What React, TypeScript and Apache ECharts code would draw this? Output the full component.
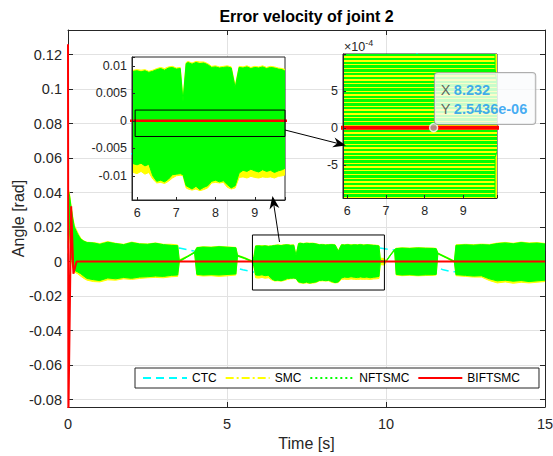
import React, { useEffect, useRef } from 'react';
import * as echarts from 'echarts';

const FONT = '"Liberation Sans", Arial, Helvetica, sans-serif';
const AX = '#262626';
const GRIDC = '#e2e2e2';
const C_CTC = '#00ffff';
const C_SMC = '#ffff00';
const C_NFT = '#00ff00';
const C_BIF = '#ff0000';

const legendNames = ['CTC', 'SMC', 'NFTSMC', 'BIFTSMC'];

// CTC (smooth, mostly hidden)
const ctcT = [0, 0.03, 0.08, 0.15, 0.25, 0.4, 0.7, 1.0, 1.5, 2.0, 2.5, 3.0, 3.5, 4.0, 4.5, 5.0, 5.5, 5.8, 6.2, 6.8, 7.4, 8.0, 8.6, 9.2, 9.8, 10.3, 10.8, 11.3, 11.8, 12.1, 12.6, 13.2, 13.8, 14.4, 15];
const ctcV = [0.0, 0.035, 0.02, 0.004, -0.004, -0.005, -0.0045, -0.0035, -0.001, 0.002, 0.005, 0.007, 0.0078, 0.006, 0.002, -0.002, -0.0048, -0.006, -0.006, -0.004, -0.001, 0.002, 0.005, 0.007, 0.0078, 0.0066, 0.003, -0.001, -0.0048, -0.006, -0.0055, -0.003, 0.001, 0.004, 0.0065];

// BIFTSMC
const bifT = [0, 0.012, 0.1, 0.17, 0.27, 15];
const bifV = [0.126, -0.09, 0.032, -0.007, 0, 0];

// Envelopes of the chattering signals (SMC yellow, NFTSMC green)
const envT = [
  0, 0.05, 0.1, 0.15, 0.2, 0.3, 0.4, 0.5, 0.6, 0.8,
  1.0, 1.25, 1.5, 1.75, 2.0, 2.25, 2.5, 2.75, 3.0, 3.25,
  3.45, 3.5, 3.75, 3.98, 4.05, 4.25, 4.5, 4.75, 5.0, 5.28,
  5.33, 5.55, 5.8, 5.85, 5.9, 6.0, 6.1, 6.2, 6.3, 6.4,
  6.5, 6.6, 6.7, 6.8, 6.9, 7.0, 7.1, 7.17, 7.25, 7.3,
  7.4, 7.5, 7.6, 7.7, 7.8, 7.9, 8.0, 8.1, 8.2, 8.3,
  8.4, 8.5, 8.6, 8.7, 8.8, 8.9, 9.0, 9.1, 9.2, 9.3,
  9.4, 9.5, 9.6, 9.7, 9.78, 9.82, 9.95, 10.0, 10.15, 10.27,
  10.32, 10.5, 10.75, 11.0, 11.25, 11.5, 11.58, 11.63, 11.9, 12.15,
  12.2, 12.5, 12.75, 13.0, 13.25, 13.5, 13.75, 14.0, 14.25, 14.5,
  14.75, 15.0,
];
const nftUpper = [
  0.042, 0.038, 0.031, 0.025, 0.020, 0.016, 0.013, 0.0118, 0.0110, 0.0108,
  0.0100, 0.0112, 0.0104, 0.0098, 0.0110, 0.0102, 0.0100, 0.0106, 0.0098, 0.0094,
  0.0092, 0.0006, 0.0030, 0.0055, 0.0080, 0.0084, 0.0082, 0.0086, 0.0083, 0.0080,
  0.0036, 0.0022, 0.0002, 0.0030, 0.0090, 0.0091, 0.0089, 0.0091, 0.0088, 0.0090,
  0.0093, 0.0095, 0.0092, 0.0096, 0.0097, 0.0094, 0.0095, 0.0035, 0.0104, 0.0106,
  0.0103, 0.0106, 0.0104, 0.0105, 0.0102, 0.0097, 0.0098, 0.0096, 0.0097, 0.0098,
  0.0096, 0.0060, 0.0097, 0.0096, 0.0098, 0.0095, 0.0097, 0.0096, 0.0098, 0.0095,
  0.0097, 0.0096, 0.0094, 0.0093, 0.0090, 0.0008, 0.0002, 0.0003, 0.0042, 0.0070,
  0.0075, 0.0078, 0.0076, 0.0079, 0.0077, 0.0076, 0.0074, 0.0049, 0.0025, 0.0002,
  0.0094, 0.0097, 0.0095, 0.0098, 0.0096, 0.0104, 0.0108, 0.0103, 0.0110, 0.0105,
  0.0107, 0.0102,
];
const nftLower = [
  0.030, 0.018, 0.004, -0.003, -0.005, -0.006, -0.007, -0.0085, -0.0098, -0.0105,
  -0.0110, -0.0095, -0.0100, -0.0092, -0.0097, -0.0090, -0.0088, -0.0084, -0.0086, -0.0080,
  -0.0078, 0.0000, 0.0026, 0.0051, -0.0074, -0.0078, -0.0076, -0.0078, -0.0075, -0.0072,
  0.0032, 0.0018, -0.0002, -0.0030, -0.0078, -0.0080, -0.0077, -0.0082, -0.0079, -0.0100,
  -0.0110, -0.0108, -0.0111, -0.0106, -0.0098, -0.0097, -0.0096, -0.0098, -0.0118, -0.0120,
  -0.0124, -0.0119, -0.0125, -0.0121, -0.0118, -0.0110, -0.0108, -0.0111, -0.0109, -0.0116,
  -0.0122, -0.0118, -0.0095, -0.0090, -0.0092, -0.0088, -0.0091, -0.0093, -0.0089, -0.0092,
  -0.0090, -0.0094, -0.0091, -0.0089, -0.0086, -0.0004, -0.0002, -0.0001, 0.0038, 0.0066,
  -0.0074, -0.0078, -0.0076, -0.0079, -0.0077, -0.0076, -0.0074, 0.0045, 0.0021, -0.0002,
  -0.0076, -0.0080, -0.0084, -0.0082, -0.0100, -0.0112, -0.0108, -0.0114, -0.0110, -0.0116,
  -0.0112, -0.0108,
];
const smcUpper = [
  0.043, 0.039, 0.032, 0.026, 0.021, 0.017, 0.0135, 0.012, 0.0112, 0.0110,
  0.0104, 0.0116, 0.0106, 0.0100, 0.0113, 0.0104, 0.0102, 0.0108, 0.0100, 0.0100,
  0.0096, 0.0010, 0.0032, 0.0056, 0.0082, 0.0086, 0.0084, 0.0088, 0.0085, 0.0082,
  0.0038, 0.0024, 0.0004, 0.0040, 0.0092, 0.0093, 0.0092, 0.0093, 0.0090, 0.0092,
  0.0095, 0.0097, 0.0095, 0.0098, 0.0099, 0.0096, 0.0097, 0.0040, 0.0106, 0.0108,
  0.0105, 0.0108, 0.0107, 0.0107, 0.0104, 0.0099, 0.0100, 0.0098, 0.0099, 0.0100,
  0.0098, 0.0064, 0.0099, 0.0098, 0.0100, 0.0097, 0.0099, 0.0098, 0.0100, 0.0097,
  0.0099, 0.0098, 0.0096, 0.0095, 0.0093, 0.0020, 0.0018, 0.0004, 0.0043, 0.0071,
  0.0077, 0.0080, 0.0078, 0.0081, 0.0079, 0.0078, 0.0076, 0.0050, 0.0027, 0.0004,
  0.0097, 0.0100, 0.0098, 0.0101, 0.0099, 0.0107, 0.0111, 0.0106, 0.0113, 0.0108,
  0.0110, 0.0105,
];
const smcLower = [
  0.030, 0.016, 0.002, -0.004, -0.006, -0.007, -0.0085, -0.0098, -0.0108, -0.0116,
  -0.0118, -0.0106, -0.0108, -0.0100, -0.0104, -0.0098, -0.0094, -0.0092, -0.0094, -0.0088,
  -0.0086, -0.0004, 0.0026, 0.0050, -0.0080, -0.0084, -0.0082, -0.0086, -0.0083, -0.0078,
  0.0030, 0.0016, -0.0004, -0.0040, -0.0094, -0.0096, -0.0092, -0.0097, -0.0094, -0.0106,
  -0.0113, -0.0112, -0.0114, -0.0110, -0.0104, -0.0100, -0.0099, -0.0100, -0.0122, -0.0124,
  -0.0126, -0.0124, -0.0127, -0.0125, -0.0122, -0.0113, -0.0112, -0.0113, -0.0112, -0.0121,
  -0.0124, -0.0122, -0.0103, -0.0102, -0.0104, -0.0101, -0.0103, -0.0104, -0.0102, -0.0103,
  -0.0102, -0.0104, -0.0101, -0.0100, -0.0098, -0.0018, -0.0020, -0.0002, 0.0037, 0.0065,
  -0.0078, -0.0082, -0.0080, -0.0083, -0.0081, -0.0080, -0.0078, 0.0044, 0.0019, -0.0004,
  -0.0082, -0.0086, -0.0090, -0.0090, -0.0110, -0.0124, -0.0118, -0.0126, -0.0120, -0.0124,
  -0.0120, -0.0116,
];

// data tip
const tipX = 8.232;
const tipY = 2.5436e-6;

// axis ranges
const MAIN_X = [0, 15];
const MAIN_Y = [-0.0843, 0.1342];
const IN1_X = [5.87, 9.77];
const IN1_Y = [-0.0144, 0.0116];
const IN2_X = [5.89, 9.87];
const IN2_Y = [-0.00095, 0.001];
const BOX_MAIN = [[5.8, 0.0154], [9.95, -0.0165]];
const BOX_IN1 = [[5.95, 0.00195], [9.77, -0.00285]];

const isMult = (v: number, s: number) => Math.abs(v / s - Math.round(v / s)) < 1e-6;
const fmtNum = (v: number) => String(+v.toFixed(6));
const fmtE = (v: number) => {
  const [m, e] = v.toExponential(4).split('e');
  const n = parseInt(e, 10);
  return m + 'e' + (n < 0 ? '-' : '+') + String(Math.abs(n)).padStart(2, '0');
};

function stripeStops() {
  const n = 38;
  const s: any[] = [];
  for (let i = 0; i < n; i++) {
    const a = i / n, b = (i + 0.64) / n, c = (i + 1) / n;
    s.push({ offset: a, color: C_NFT }, { offset: b, color: C_NFT }, { offset: b, color: C_SMC }, { offset: c, color: C_SMC });
  }
  return s;
}

function lineSeries(name: string, xs: number[], ys: number[], color: string, width: number, type: any, ax: number, z: number, extra: any = {}) {
  return {
    type: 'line', name, xAxisIndex: ax, yAxisIndex: ax, z, silent: true, clip: true,
    data: xs.map((x, i) => [x, ys[i]]), symbol: 'none', showSymbol: false,
    lineStyle: { color, width, type }, itemStyle: { color },
    ...extra,
  };
}

function bandSeries(name: string, lo: number[], hi: number[], color: string, ax: number, z: number, striped = false) {
  return {
    type: 'custom', name, xAxisIndex: ax, yAxisIndex: ax, z, silent: true, clip: true,
    data: envT.map((t, i) => [t, lo[i], hi[i]]),
    encode: { x: 0, y: [1, 2] },
    renderItem: (params: any, api: any) => {
      if (params.dataIndex !== 0) return null;
      const pts: number[][] = [];
      for (let i = 0; i < envT.length; i++) pts.push(api.coord([envT[i], hi[i]]));
      for (let i = envT.length - 1; i >= 0; i--) pts.push(api.coord([envT[i], lo[i]]));
      const cs = params.coordSys;
      const fill: any = striped
        ? new echarts.graphic.LinearGradient(0, cs.y, 0, cs.y + cs.height, stripeStops(), true)
        : color;
      return {
        type: 'group',
        clipPath: { type: 'rect', shape: { x: cs.x, y: cs.y, width: cs.width, height: cs.height } },
        children: [{ type: 'polygon', shape: { points: pts }, style: { fill, stroke: color, lineWidth: 1 } }],
      };
    },
  };
}

function arrow(x1: number, y1: number, x2: number, y2: number) {
  const dx = x2 - x1, dy = y2 - y1, L = Math.hypot(dx, dy);
  const ux = dx / L, uy = dy / L, px = -uy, py = ux;
  const hl = 13, hw = 5, notch = 9;
  return [
    { type: 'line', z: 30, shape: { x1, y1, x2: x2 - ux * notch, y2: y2 - uy * notch }, style: { stroke: '#000', lineWidth: 1 } },
    {
      type: 'polygon', z: 30,
      shape: { points: [[x2, y2], [x2 - ux * hl + px * hw, y2 - uy * hl + py * hw], [x2 - ux * notch, y2 - uy * notch], [x2 - ux * hl - px * hw, y2 - uy * hl - py * hw]] },
      style: { fill: '#000' },
    },
  ];
}

function valueAxis(extra: any) {
  return {
    type: 'value',
    axisLine: { show: true, onZero: false, lineStyle: { color: AX, width: 1 } },
    axisTick: { show: true, inside: true, length: 5, lineStyle: { color: AX, width: 1 } },
    splitLine: { show: false },
    axisLabel: { show: false },
    ...extra,
  };
}

function buildOption(): any {
  const tickLabel = { color: AX, fontSize: 14.5, fontFamily: FONT };
  const insetLabel = { color: AX, fontSize: 12.5, fontFamily: FONT };
  const markBox = (box: number[][], z: number) => ({
    silent: true, z,
    itemStyle: { color: 'rgba(0,0,0,0)', borderColor: '#000', borderWidth: 1 },
    label: { show: false },
    emphasis: { disabled: true },
    data: [[{ coord: box[0] }, { coord: box[1] }]],
  });

  return {
    animation: false,
    backgroundColor: '#fff',
    textStyle: { fontFamily: FONT },
    grid: [
      { left: 68, top: 30, width: 477, height: 377, show: false, containLabel: false, outerBoundsMode: 'none' },
      { left: 132, top: 57, width: 153, height: 143, show: true, backgroundColor: '#fff', borderColor: AX, borderWidth: 1, z: 8, containLabel: false, outerBoundsMode: 'none' },
      { left: 343, top: 54, width: 154, height: 144, show: true, backgroundColor: '#fff', borderColor: AX, borderWidth: 1, z: 8, containLabel: false, outerBoundsMode: 'none' },
    ],
    xAxis: [
      valueAxis({
        gridIndex: 0, position: 'bottom', min: MAIN_X[0], max: MAIN_X[1], interval: 5,
        splitLine: { show: true, lineStyle: { color: GRIDC, width: 1 } },
        axisLabel: { show: true, margin: 9, ...tickLabel },
        name: 'Time [s]', nameLocation: 'middle', nameGap: 28, nameMoveOverlap: false,
        nameTextStyle: { fontSize: 16, color: AX, fontFamily: FONT },
      }),
      valueAxis({ gridIndex: 0, position: 'top', min: MAIN_X[0], max: MAIN_X[1], interval: 5 }),
      valueAxis({
        gridIndex: 1, position: 'bottom', min: IN1_X[0], max: IN1_X[1], splitNumber: 4, z: 12,
        axisTick: { show: true, inside: true, length: 3, lineStyle: { color: AX } },
        axisLabel: { show: true, margin: 6, ...insetLabel, formatter: (v: number) => (isMult(v, 1) ? fmtNum(v) : '') },
      }),
      valueAxis({
        gridIndex: 2, position: 'bottom', min: IN2_X[0], max: IN2_X[1], splitNumber: 4, z: 12,
        axisTick: { show: true, inside: true, length: 3, lineStyle: { color: AX } },
        axisLabel: { show: true, margin: 6, ...insetLabel, formatter: (v: number) => (isMult(v, 1) ? fmtNum(v) : '') },
      }),
    ],
    yAxis: [
      valueAxis({
        gridIndex: 0, position: 'left', min: MAIN_Y[0], max: MAIN_Y[1], splitNumber: 10,
        splitLine: { show: true, lineStyle: { color: GRIDC, width: 1 } },
        axisLabel: { show: true, margin: 6, ...tickLabel, formatter: (v: number) => (isMult(v, 0.02) ? fmtNum(v) : '') },
        name: 'Angle [rad]', nameLocation: 'middle', nameGap: 42, nameMoveOverlap: false,
        nameTextStyle: { fontSize: 16, color: AX, fontFamily: FONT },
      }),
      valueAxis({ gridIndex: 0, position: 'right', min: MAIN_Y[0], max: MAIN_Y[1], splitNumber: 10 }),
      valueAxis({
        gridIndex: 1, position: 'left', min: IN1_Y[0], max: IN1_Y[1], splitNumber: 5, z: 12,
        axisTick: { show: true, inside: true, length: 3, lineStyle: { color: AX } },
        axisLabel: { show: true, margin: 5, ...insetLabel, formatter: (v: number) => (isMult(v, 0.005) ? fmtNum(v) : '') },
      }),
      valueAxis({
        gridIndex: 2, position: 'left', min: IN2_Y[0], max: IN2_Y[1], splitNumber: 4, z: 12,
        axisTick: { show: true, inside: true, length: 3, lineStyle: { color: AX } },
        axisLabel: {
          show: true, margin: 5, ...insetLabel,
          formatter: (v: number) => (isMult(v, 0.0005) && Math.abs(v) < 0.0009 ? fmtNum(v / 1e-4) : ''),
        },
      }),
    ],
    legend: {
      left: 135, top: 368, orient: 'horizontal',
      itemWidth: 44, itemHeight: 14, itemGap: 8,
      padding: [4, 19, 4, 7],
      borderColor: AX, borderWidth: 1, backgroundColor: '#fff',
      textStyle: { fontSize: 12, color: '#000', fontFamily: FONT },
      itemStyle: { color: 'rgba(0,0,0,0)', borderWidth: 0, opacity: 0 },
      selectedMode: false, z: 6,
      data: legendNames,
    },
    series: [
      // legend entries
      lineSeries(legendNames[0], [], [], C_CTC, 1.5, [8, 5], 0, 1),
      lineSeries(legendNames[1], [], [], C_SMC, 1.5, [8, 3, 2, 3], 0, 1),
      lineSeries(legendNames[2], [], [], C_NFT, 1.5, [2, 3], 0, 1),
      lineSeries(legendNames[3], [], [], C_BIF, 2, 'solid', 0, 1),
      // main plot
      lineSeries('ctc-main', ctcT, ctcV, C_CTC, 1.5, [8, 5], 0, 1),
      bandSeries('smc-main', smcLower, smcUpper, C_SMC, 0, 2),
      bandSeries('nft-main', nftLower, nftUpper, C_NFT, 0, 2.5),
      lineSeries('bif-main', bifT, bifV, C_BIF, 2, 'solid', 0, 3, { markArea: markBox(BOX_MAIN, 5) }),
      // inset 1
      lineSeries('ctc-in1', ctcT, ctcV, C_CTC, 1.5, [8, 5], 2, 9),
      bandSeries('smc-in1', smcLower, smcUpper, C_SMC, 2, 10),
      bandSeries('nft-in1', nftLower, nftUpper, C_NFT, 2, 10.5),
      lineSeries('bif-in1', bifT, bifV, C_BIF, 2.5, 'solid', 2, 11, { markArea: markBox(BOX_IN1, 12) }),
      // inset 2
      lineSeries('ctc-in2', ctcT, ctcV, C_CTC, 1.5, [8, 5], 3, 9),
      bandSeries('smc-in2', smcLower, smcUpper, C_SMC, 3, 10),
      bandSeries('nft-in2', nftLower, nftUpper, C_NFT, 3, 10.5, true),
      lineSeries('bif-in2', bifT, bifV, C_BIF, 4, 'solid', 3, 11),
      {
        type: 'scatter', name: 'tip', xAxisIndex: 3, yAxisIndex: 3, z: 20, silent: true,
        data: [[tipX, tipY]], symbol: 'circle', symbolSize: 8,
        itemStyle: { color: '#a8a8a8', borderColor: '#fff', borderWidth: 1.5 },
        label: {
          show: true, position: [6, -50], align: 'left', verticalAlign: 'top',
          formatter: () => `{k|X} {v|${tipX}}\n{k|Y} {v|${fmtE(tipY)}}`,
          backgroundColor: '#fafbfc', borderColor: '#9a9a9a', borderWidth: 1, borderRadius: 3,
          padding: [7, 8, 5, 6], lineHeight: 19.5,
          rich: {
            k: { fontSize: 14.5, color: '#404040', fontFamily: FONT, lineHeight: 19.5 },
            v: { fontSize: 14.5, color: '#1597f0', fontWeight: 'bold', fontFamily: FONT, lineHeight: 19.5 },
          },
        },
      },
    ],
    graphic: [
      {
        type: 'text', x: 306.5, y: 8, z: 30,
        style: { text: 'Error velocity of joint 2', font: `bold 16px ${FONT}`, fill: '#000', align: 'center', verticalAlign: 'top' },
      },
      {
        type: 'text', x: 344, y: 38, z: 30,
        style: {
          text: '{a|×10}{b|-4}', align: 'left', verticalAlign: 'top',
          rich: {
            a: { fontSize: 12.5, fill: AX, fontFamily: FONT, verticalAlign: 'bottom', lineHeight: 15 },
            b: { fontSize: 9, fill: AX, fontFamily: FONT, verticalAlign: 'top', lineHeight: 15 },
          },
        },
      },
      ...arrow(279.5, 242, 272.5, 196),
      ...arrow(285, 130, 346, 145.5),
    ],
  };
}

export default function App() {
  const ref = useRef<HTMLDivElement>(null);
  useEffect(() => {
    const el = ref.current!;
    const chart = echarts.init(el, undefined, { renderer: 'svg' });
    chart.setOption(buildOption());
    return () => chart.dispose();
  }, []);
  return (
    <div
      ref={ref}
      style={{ position: 'fixed', left: 0, top: 0, width: 553, height: 456, background: '#fff' }}
    />
  );
}
